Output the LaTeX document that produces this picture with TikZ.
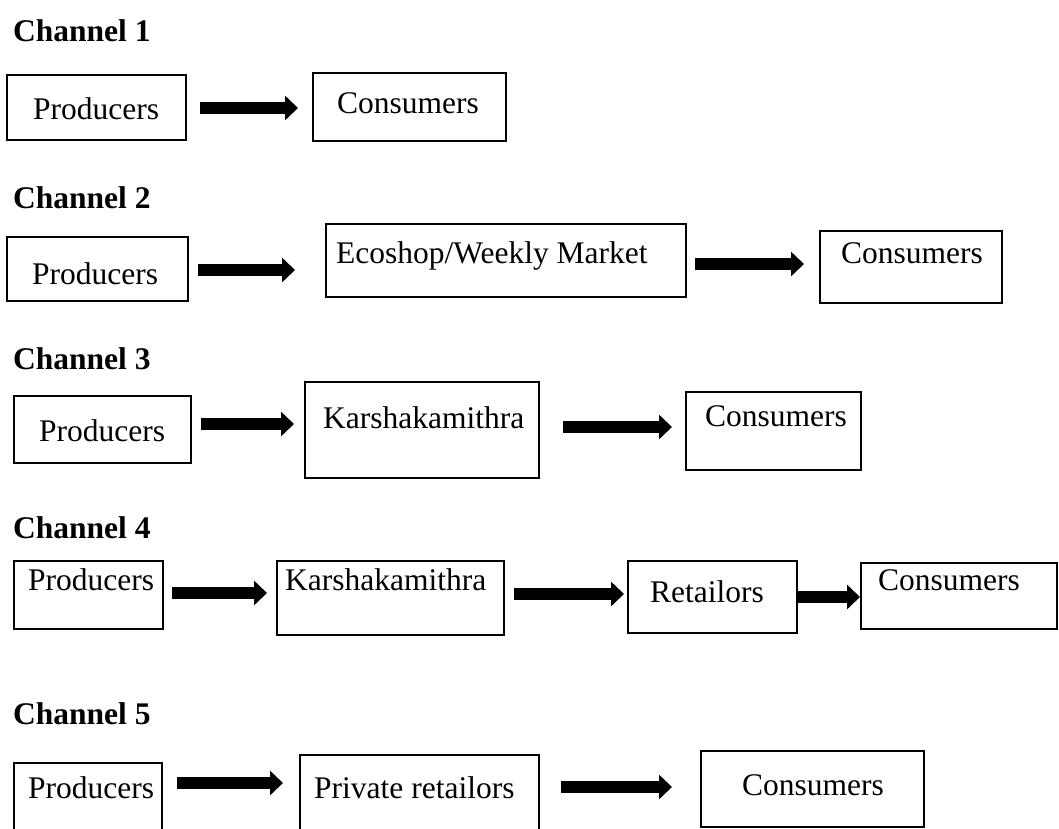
\documentclass[tikz,border=0pt]{standalone}
\usepackage{fontspec}
\setmainfont{Liberation Serif}
\usetikzlibrary{arrows.meta}
\tikzset{
  box/.style={draw, line width=2.2pt, inner sep=0pt, rectangle},
  lbl/.style={inner sep=0pt, anchor=base west, font=\fontsize{31.5}{38}\selectfont},
  ttl/.style={inner sep=0pt, anchor=base west, font=\fontsize{31.5}{38}\selectfont\bfseries},
  fat/.style={line width=12pt, -{Triangle[length=13pt,width=24pt]}}
}
\newcommand\chbox[5]{\node[box, minimum width={(#4)-(#2)}, minimum height={(#5)-(#3)}] (#1) at ({((#2)+(#4))/2},{((#3)+(#5))/2}) {};}
\newcommand\fatarrow[4]{\coordinate (#1s) at (#2,#4); \coordinate (#1e) at (#3,#4); \draw[fat] (#1s) -- (#1e);}
\begin{document}
\begin{tikzpicture}[x=1pt,y=-1pt]
\useasboundingbox (0,0) rectangle (1059,828);
\clip (0,0) rectangle (1059,828);
% Channel 1
\node[ttl] (t1) at (13,41) {Channel 1};
\chbox{p1}{7}{75}{186}{140}
\chbox{c1}{313}{73}{506}{141}
\node[lbl] (p1t) at (33,119) {Producers};
\node[lbl] (c1t) at (337,113) {Consumers};
\fatarrow{a1}{200}{298}{108}
% Channel 2
\node[ttl] (t2) at (13,208) {Channel 2};
\chbox{p2}{7}{237}{188}{301}
\chbox{e2}{326}{224}{686}{297}
\chbox{c2}{820}{231}{1002}{303}
\node[lbl] (p2t) at (32,284) {Producers};
\node[lbl] (e2t) at (336,263) {Ecoshop/Weekly Market};
\node[lbl] (c2t) at (841,263) {Consumers};
\fatarrow{a2}{198}{295}{270}
\fatarrow{b2}{695}{804}{264}
% Channel 3
\node[ttl] (t3) at (13,369) {Channel 3};
\chbox{p3}{14}{396}{191}{463}
\chbox{k3}{305}{382}{539}{478}
\chbox{c3}{686}{392}{861}{470}
\node[lbl] (p3t) at (39,441) {Producers};
\node[lbl] (k3t) at (323,428) {Karshakamithra};
\node[lbl] (c3t) at (705,426) {Consumers};
\fatarrow{a3}{201}{294}{424}
\fatarrow{b3}{563}{672}{427}
% Channel 4
\node[ttl] (t4) at (13,538) {Channel 4};
\chbox{p4}{14}{561}{163}{629}
\chbox{k4}{277}{561}{504}{635}
\chbox{r4}{628}{561}{797}{633}
\chbox{c4}{861}{563}{1057}{629}
\node[lbl] (p4t) at (28,590) {Producers};
\node[lbl] (k4t) at (285,590) {Karshakamithra};
\node[lbl] (r4t) at (650,602) {Retailors};
\node[lbl] (c4t) at (878,590) {Consumers};
\fatarrow{a4}{172}{267}{593}
\fatarrow{b4}{514}{624}{594}
\fatarrow{d4}{797}{860}{597}
% Channel 5
\node[ttl] (t5) at (13,724) {Channel 5};
\chbox{p5}{14}{763}{162}{845}
\chbox{r5}{300}{755}{539}{845}
\chbox{c5}{701}{751}{924}{827}
\node[lbl] (p5t) at (28,798) {Producers};
\node[lbl] (r5t) at (314,798) {Private retailors};
\node[lbl] (c5t) at (742,795) {Consumers};
\fatarrow{a5}{177}{283}{783}
\fatarrow{b5}{561}{672}{787}
\end{tikzpicture}
\end{document}
